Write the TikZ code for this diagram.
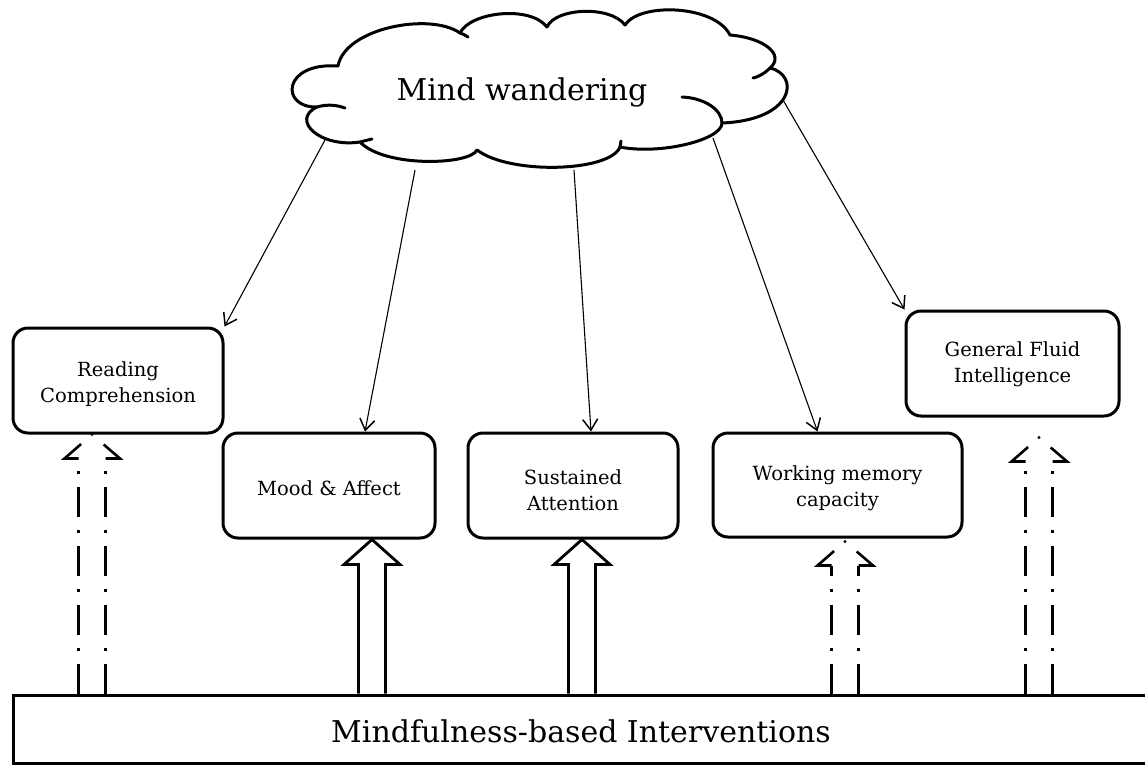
\documentclass[tikz,border=0pt]{standalone}
\usepackage{fontspec}
\setmainfont{DejaVu Serif}
\usetikzlibrary{arrows.meta,calc}
\newcommand\solidblock[1]{%
  \draw[blockline] ([xshift=-13.5pt]#1 |- bar.north) -- ([xshift=-13.5pt,yshift=-25pt]#1)
    -- ([xshift=-28pt,yshift=-25pt]#1) -- (#1) -- ([xshift=28pt,yshift=-25pt]#1)
    -- ([xshift=13.5pt,yshift=-25pt]#1) -- ([xshift=13.5pt]#1 |- bar.north);}
\newcommand\ddblock[1]{%
  \draw[ddline] ([xshift=-13.5pt]#1 |- bar.north) -- ([xshift=-13.5pt,yshift=-24pt]#1);
  \draw[ddline] ([xshift=13.5pt]#1 |- bar.north) -- ([xshift=13.5pt,yshift=-24pt]#1);
  \draw[headline] ([xshift=-13.5pt,yshift=-24pt]#1) -- ([xshift=-27.5pt,yshift=-24pt]#1) -- (#1);
  \draw[headline] ([xshift=13.5pt,yshift=-24pt]#1) -- ([xshift=28pt,yshift=-24pt]#1) -- (#1);
  \fill (#1) circle (1.7pt);}
\begin{document}
\begin{tikzpicture}[x=1pt,y=-1pt,
  boxnode/.style={draw, line width=3pt, rounded corners=15pt, inner sep=0pt},
  boxtext/.style={align=center, font=\fontsize{19.5}{26}\selectfont, inner sep=0pt},
  barnode/.style={draw, line width=3pt, inner sep=0pt},
  bigtext/.style={anchor=base, font=\fontsize{30}{36}\selectfont, inner sep=0pt},
  thinarrow/.style={line width=1.1pt, -{Straight Barb[length=11pt,width=15pt,line width=1.5pt]}},
  blockline/.style={line width=2.8pt, line join=miter},
  ddline/.style={line width=2.6pt, dash pattern=on 30pt off 13pt on 3pt off 13pt},
  headline/.style={line width=2.6pt, line join=miter, dash pattern=on 36pt off 40pt},
  cloudline/.style={line width=3pt, line join=round, line cap=round}]
\useasboundingbox (0,0) rectangle (1145,766);

% cloud
\filldraw[cloudline, fill=white] (317,107) .. controls (280,108) and (282,62) .. (338,66)
  .. controls (345,28) and (430,12) .. (460,33)
  .. controls (470,12) and (530,5) .. (547,27)
  .. controls (555,8) and (610,5) .. (625,25)
  .. controls (640,2) and (715,5) .. (730,35)
  .. controls (765,38) and (785,55) .. (770,68)
  .. controls (800,75) and (795,120) .. (722,123)
  .. controls (722,140) and (660,155) .. (620,147)
  .. controls (610,172) and (510,175) .. (477,150)
  .. controls (470,165) and (385,168) .. (360,142)
  .. controls (320,148) and (290,120) .. (317,107) -- cycle;
\draw[cloudline] (460,33) .. controls (463,34) .. (468,37);
\draw[cloudline] (770,68) .. controls (764,74) and (758,77) .. (753,78);
\draw[cloudline] (682,97) .. controls (705,98) and (722,110) .. (722,123);
\draw[cloudline] (360,142) -- (372,139);
\draw[cloudline] (317,107) .. controls (327,104) and (337,105) .. (345,108);
\draw[cloudline] (620,147) -- (621,141);
\node[bigtext] (mw) at (522,100) {Mind wandering};

\coordinate (c1) at (325,140);
\coordinate (c2) at (415,170);
\coordinate (c3) at (574,170);
\coordinate (c4) at (713,138);
\coordinate (c5) at (783,100);

% boxes
\node[boxnode, minimum width=210pt, minimum height=105pt] (rc) at (118,380.5) {};
\node[boxnode, minimum width=212pt, minimum height=105pt] (mood) at (329,485.5) {};
\node[boxnode, minimum width=210pt, minimum height=105pt] (sus) at (573,485.5) {};
\node[boxnode, minimum width=249pt, minimum height=104pt] (wm) at (837.5,485) {};
\node[boxnode, minimum width=213pt, minimum height=105pt] (gfi) at (1012.5,363.5) {};
\node[boxtext] (rct) at ([yshift=-4pt]rc.center) {Reading\\Comprehension};
\node[boxtext] (moodt) at ([yshift=-3pt]mood.center) {Mood \& Affect};
\node[boxtext] (sust) at ([yshift=-5pt]sus.center) {Sustained\\Attention};
\node[boxtext] (wmt) at ([yshift=-3pt]wm.center) {Working memory\\capacity};
\node[boxtext] (gfit) at ([yshift=-1pt]gfi.center) {General Fluid\\Intelligence};

% bar
\node[barnode, minimum width=1142pt, minimum height=68pt] (bar) at (584,729) {};
\node[bigtext] (bartext) at (581,742) {Mindfulness-based Interventions};

% thin arrows
\draw[thinarrow] (c1) -- (rc.north east);
\draw[thinarrow] (c2) -- ([xshift=36pt]mood.north);
\draw[thinarrow] (c3) -- ([xshift=18pt]sus.north);
\draw[thinarrow] (c4) -- ([xshift=-20pt]wm.north);
\draw[thinarrow] (c5) -- (gfi.north west);

% block arrows
\coordinate (t1) at ([xshift=-26pt]rc.south);
\coordinate (t2) at ([xshift=43pt]mood.south);
\coordinate (t3) at ([xshift=9pt]sus.south);
\coordinate (t4) at ([xshift=7.5pt,yshift=-3pt]wm.south);
\coordinate (t5) at ([xshift=26.5pt,yshift=-20pt]gfi.south);
\ddblock{t1}
\solidblock{t2}
\solidblock{t3}
\ddblock{t4}
\ddblock{t5}
\end{tikzpicture}
\end{document}
